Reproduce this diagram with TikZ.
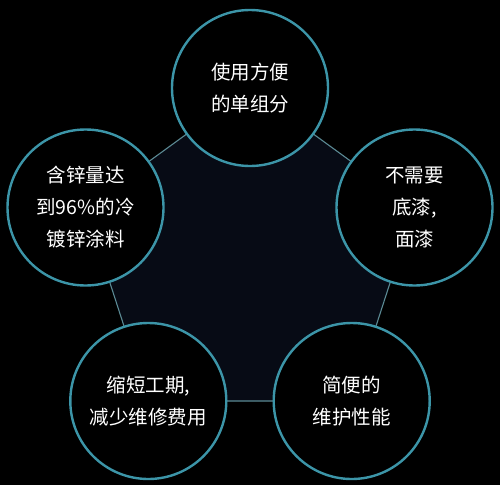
\documentclass[tikz,border=0pt]{standalone}
\usepackage{fontspec}
\newfontfamily\cjk{Noto Sans CJK SC}
\definecolor{ringc}{HTML}{3C95A8}
\definecolor{edgec}{HTML}{5B8A94}
\definecolor{pentc}{HTML}{070B15}
\begin{document}
\begin{tikzpicture}[x=1pt,y=-1pt,
  feat/.style={circle,draw=ringc,line width=2.4pt,fill=black,minimum size=156pt,inner sep=0pt,
    text=white,align=center,font=\cjk\fontsize{19.5pt}{32pt}\selectfont},
  edge/.style={draw=edgec,line width=1.1pt}]
\fill[black] (0,0) rectangle (500,485);
\useasboundingbox (0,0) rectangle (500,485);
\coordinate (c1) at (250,88);
\coordinate (c2) at (414.5,207.5);
\coordinate (c3) at (351.7,401);
\coordinate (c4) at (148.3,401);
\coordinate (c5) at (85.5,207.5);
\filldraw[fill=pentc,edge] (c1) -- (c2) -- (c3) -- (c4) -- (c5) -- cycle;
\node[feat] (n1) at (c1) {使用方便\\的单组分};
\node[feat] (n2) at (c2) {不需要\\底漆,\\面漆};
\node[feat] (n3) at (c3) {简便的\\维护性能};
\node[feat] (n4) at (c4) {缩短工期,\\减少维修费用};
\node[feat] (n5) at (c5) {含锌量达\\到96\%的冷\\镀锌涂料};
\end{tikzpicture}
\end{document}
